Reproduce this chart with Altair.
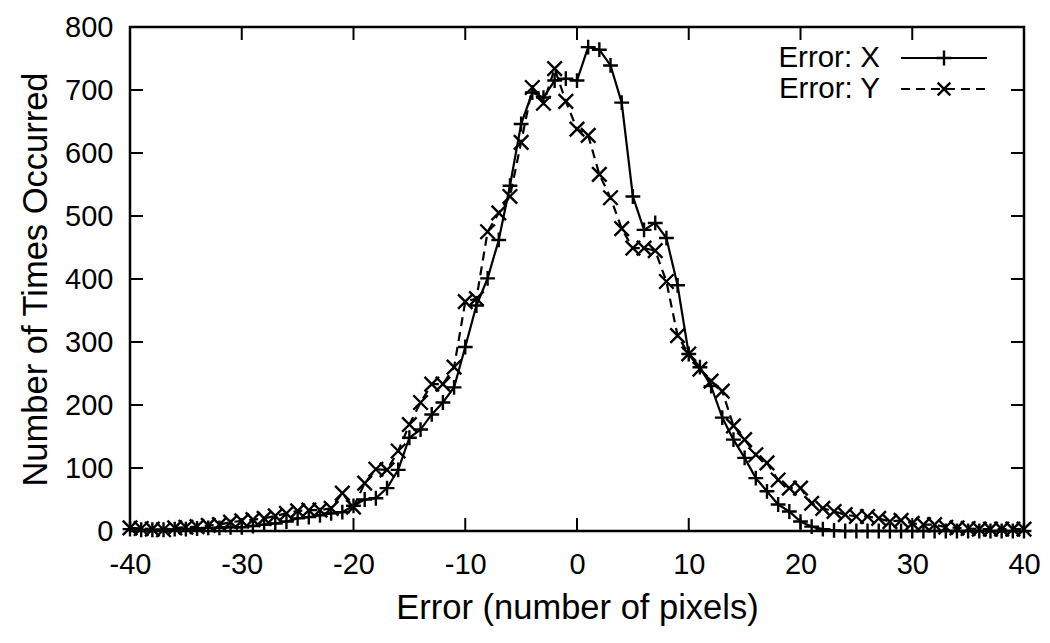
import altair as alt
import pandas as pd

# ---- data -----------------------------------------------------------------
errors = list(range(-40, 41))

count_x = [3, 2, 2, 2, 3, 3, 4, 5, 5, 6,
           6, 8, 10, 12, 15, 20, 22, 25, 28, 30,
           40, 50, 52, 68, 97, 148, 161, 185, 204, 228,
           292, 358, 401, 462, 548, 646, 696, 688, 715, 718,
           715, 768, 764, 739, 680, 531, 478, 489, 465, 390,
           281, 260, 230, 180, 145, 116, 84, 63, 42, 31,
           15, 7, 3, 1, 0, 0, 0, 0, 0, 0,
           0, 0, 0, 0, 0, 0, 0, 0, 0, 0, 0]

count_y = [5, 4, 3, 2, 5, 6, 7, 9, 10, 14,
           16, 18, 20, 24, 28, 32, 33, 33, 36, 60,
           38, 76, 98, 97, 127, 169, 204, 233, 233, 260,
           364, 369, 475, 505, 531, 617, 704, 679, 734, 682,
           638, 628, 566, 529, 480, 449, 449, 445, 396, 310,
           281, 257, 238, 222, 167, 145, 121, 108, 81, 68,
           68, 44, 36, 31, 26, 23, 23, 20, 15, 17,
           12, 10, 10, 6, 5, 4, 3, 3, 3, 3, 3]

x_ticks = [-40, -30, -20, -10, 0, 10, 20, 30, 40]
y_ticks = [0, 100, 200, 300, 400, 500, 600, 700, 800]
legend_labels = ["Error: X", "Error: Y"]

# ---- styling --------------------------------------------------------------
W, H = 894, 504
FONT = "Liberation Sans"
FS = 29
TFS = 34.5
PLUS = "M-1,0L1,0M0,-1L0,1"
CROSS = "M-1,-1L1,1M-1,1L1,-1"
TICK = 13

df_x = pd.DataFrame({"err": errors, "n": count_x})
df_y = pd.DataFrame({"err": errors, "n": count_y})

xscale = alt.Scale(domain=[-40, 40], nice=False, zero=False)
yscale = alt.Scale(domain=[0, 800], nice=False)

axis_style = dict(tickSize=0, domain=False, grid=False, labelFlush=False,
                  labelFont=FONT, labelFontSize=FS, labelColor="black",
                  titleFont=FONT, titleFontSize=TFS, titleColor="black",
                  titleFontWeight="normal", labelExpr="'' + datum.value")

xenc = alt.X("err:Q", scale=xscale,
             axis=alt.Axis(title="Error (number of pixels)", values=x_ticks,
                           labelPadding=19, titlePadding=12, **axis_style))
yenc = alt.Y("n:Q", scale=yscale,
             axis=alt.Axis(title="Number of Times Occurred", values=y_ticks,
                           labelPadding=17, titlePadding=11, **axis_style))

line_x = alt.Chart(df_x).mark_line(color="black", strokeWidth=2.2).encode(x=xenc, y=yenc)
pts_x = alt.Chart(df_x).mark_point(shape=PLUS, size=220, filled=False,
                                    color="black", strokeWidth=2.4, opacity=1).encode(
    x=alt.X("err:Q", scale=xscale), y=alt.Y("n:Q", scale=yscale))

line_y = alt.Chart(df_y).mark_line(color="black", strokeWidth=2.2,
                                   strokeDash=[9, 6]).encode(
    x=alt.X("err:Q", scale=xscale), y=alt.Y("n:Q", scale=yscale))
pts_y = alt.Chart(df_y).mark_point(shape=CROSS, size=210, filled=False,
                                    color="black", strokeWidth=2.4, opacity=1).encode(
    x=alt.X("err:Q", scale=xscale), y=alt.Y("n:Q", scale=yscale))

# inward ticks (gnuplot style, mirrored)
xt = pd.DataFrame({"t": x_ticks})
yt = pd.DataFrame({"t": y_ticks})
xt_bot = alt.Chart(xt).mark_rule(color="black", strokeWidth=2).encode(
    x=alt.X("t:Q", scale=xscale), y=alt.value(H), y2=alt.value(H - TICK))
xt_top = alt.Chart(xt).mark_rule(color="black", strokeWidth=2).encode(
    x=alt.X("t:Q", scale=xscale), y=alt.value(0), y2=alt.value(TICK))
yt_left = alt.Chart(yt).mark_rule(color="black", strokeWidth=2).encode(
    y=alt.Y("t:Q", scale=yscale), x=alt.value(0), x2=alt.value(TICK))
yt_right = alt.Chart(yt).mark_rule(color="black", strokeWidth=2).encode(
    y=alt.Y("t:Q", scale=yscale), x=alt.value(W - TICK), x2=alt.value(W))

# legend (gnuplot style: label then sample)
leg = pd.DataFrame({"label": legend_labels})
row_y = [31, 62]


def leg_row(i, shape, size, dash=None):
    base = alt.Chart(leg).transform_filter(alt.datum.label == legend_labels[i])
    txt = base.mark_text(align="right", baseline="middle", font=FONT,
                         fontSize=29.5, color="black").encode(
        text="label:N", x=alt.value(750), y=alt.value(row_y[i]))
    rule_kw = dict(color="black", strokeWidth=2.2)
    if dash:
        rule_kw["strokeDash"] = dash
    rule = base.mark_rule(**rule_kw).encode(
        x=alt.value(771), x2=alt.value(857), y=alt.value(row_y[i]))
    pt = base.mark_point(shape=shape, size=size, filled=False, color="black",
                         strokeWidth=2.4, opacity=1).encode(
        x=alt.value(814), y=alt.value(row_y[i]))
    return [txt, rule, pt]


chart = alt.layer(
    line_x, line_y, pts_x, pts_y,
    xt_bot, xt_top, yt_left, yt_right,
    *leg_row(0, PLUS, 220), *leg_row(1, CROSS, 160, [9, 6]),
).properties(
    width=W, height=H,
    autosize=alt.AutoSizeParams(type="none"),
    padding={"left": 122, "top": 19, "right": 17, "bottom": 96},
    background="white",
).configure_view(
    stroke="black", strokeWidth=2.5
)

chart.save("out.html", embed_options={"renderer": "svg", "actions": False})
